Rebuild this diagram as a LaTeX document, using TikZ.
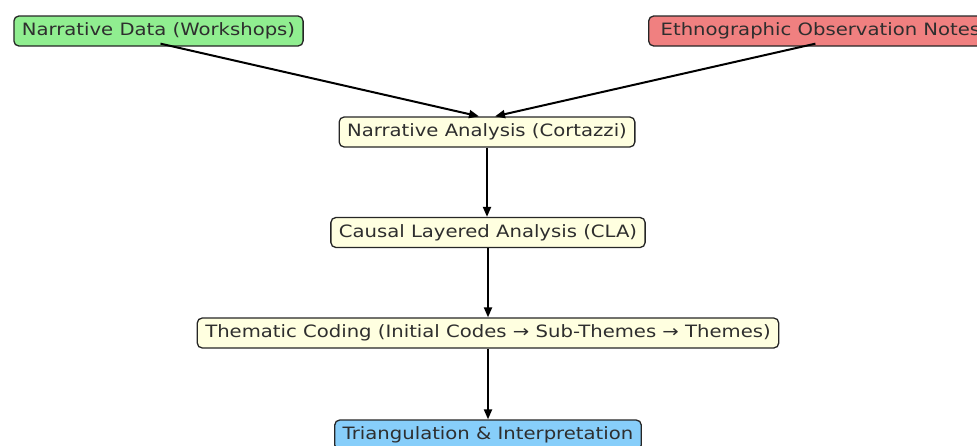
\documentclass[tikz,border=0pt]{standalone}
\usepackage{fontspec}
\setmainfont[FakeStretch=1.155]{DejaVu Sans}
\usetikzlibrary{arrows.meta}
\definecolor{bgreen}{HTML}{90EE90}
\definecolor{bred}{HTML}{F08080}
\definecolor{byellow}{HTML}{FFFFE0}
\definecolor{bblue}{HTML}{87CEFA}
\definecolor{txt}{HTML}{2E2E2E}
\begin{document}
\begin{tikzpicture}[x=1pt,y=1pt,
  box/.style={draw=black!85, line width=1.3pt, rounded corners=5pt, inner xsep=8pt,
    minimum height=30pt, text=txt, font=\fontsize{17}{20}\selectfont},
  arr/.style={-{Triangle[length=10pt,width=8pt]}, line width=2pt, black}]
\useasboundingbox (0,0) rectangle (977,-445);
\clip (0,0) rectangle (977,-445);
\node[box, fill=bgreen] (nd) at (158.5,-31) {Narrative Data (Workshops)};
\node[box, fill=bred, anchor=west, inner xsep=12pt] (eo) at (648,-31) {Ethnographic Observation Notes};
\node[box, fill=byellow] (na) at (487,-132) {Narrative Analysis (Cortazzi)};
\node[box, fill=byellow] (cla) at (488,-232.5) {Causal Layered Analysis (CLA)};
\node[box, fill=byellow] (tc) at (488,-333) {Thematic Coding (Initial Codes → Sub-Themes → Themes)};
\node[box, fill=bblue] (tri) at (488,-435) {Triangulation \& Interpretation};
\draw[arr] ([xshift=2pt,yshift=3pt]nd.south) -- ([xshift=-8pt]na.north);
\draw[arr] ([xshift=-5pt,yshift=3pt]eo.south) -- ([xshift=8pt]na.north);
\draw[arr] (na.south) -- (na.south |- cla.north);
\draw[arr] (cla.south) -- (tc.north);
\draw[arr] (tc.south) -- (tri.north);
\end{tikzpicture}
\end{document}
